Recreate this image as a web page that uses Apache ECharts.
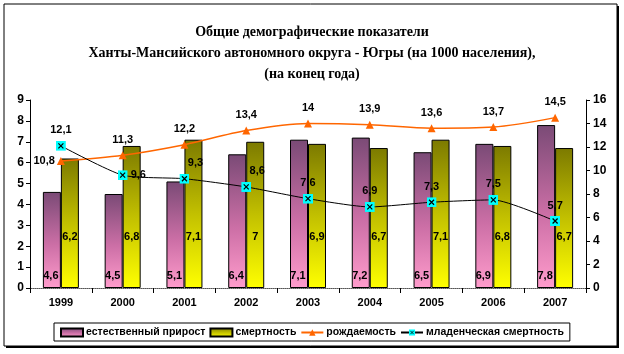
<!DOCTYPE html>
<html>
<head>
<meta charset="utf-8">
<script src="https://cdn.jsdelivr.net/npm/echarts@6/dist/echarts.min.js"></script>
<style>
  html, body { margin: 0; padding: 0; background: #fff; }
  #chart { width: 624px; height: 354px; }
</style>
</head>
<body>
<div id="chart"></div>
<script>
// data
const years = ['1999', '2000', '2001', '2002', '2003', '2004', '2005', '2006', '2007'];
const naturalGrowth = [4.6, 4.5, 5.1, 6.4, 7.1, 7.2, 6.5, 6.9, 7.8];
const mortality = [6.2, 6.8, 7.1, 7, 6.9, 6.7, 7.1, 6.8, 6.7];
const birthRate = [10.8, 11.3, 12.2, 13.4, 14, 13.9, 13.6, 13.7, 14.5];
const infantMortality = [12.1, 9.6, 9.3, 8.6, 7.6, 6.9, 7.3, 7.5, 5.7];

const names = ['естественный прирост', 'смертность', 'рождаемость', 'младенческая смертность'];

const font = 'Liberation Sans';
const comma = p => String(p.value).replace('.', ',');

const xMark =
  'image://data:image/svg+xml;charset=utf-8,' +
  encodeURIComponent(
    '<svg xmlns="http://www.w3.org/2000/svg" width="10" height="10">' +
      '<rect x="0" y="0" width="10" height="10" fill="#00ffff"/>' +
      '<path d="M2.5 2.5 L7.5 7.5 M7.5 2.5 L2.5 7.5" stroke="#000" stroke-width="1.2"/>' +
      '</svg>'
  );

const chart = echarts.init(document.getElementById('chart'));

const labelBase = {
  show: true,
  color: '#000',
  fontFamily: font,
  fontWeight: 'bold',
  fontSize: 11,
  formatter: comma,
};

const axisText = {
  color: '#000',
  fontFamily: font,
  fontWeight: 'bold',
  fontSize: 11,
};

const option = {
  animation: false,
  backgroundColor: '#fff',
  textStyle: { fontFamily: font },
  graphic: [
    {
      type: 'rect',
      shape: { x: 6, y: 6, width: 613, height: 342 },
      style: { fill: '#000' },
      silent: true,
      z: -10,
    },
    {
      type: 'rect',
      shape: { x: 4, y: 4, width: 613, height: 342 },
      style: { fill: '#fff', stroke: '#000', lineWidth: 1 },
      silent: true,
      z: -9,
    },
  ],
  title: {
    text:
      'Общие демографические показатели\n' +
      'Ханты-Мансийского автономного округа - Югры (на 1000 населения),\n' +
      '(на конец года)',
    left: 'center',
    top: 17,
    textStyle: {
      fontFamily: 'Liberation Serif',
      fontWeight: 'bold',
      fontSize: 14,
      lineHeight: 21,
      color: '#000',
    },
  },
  legend: {
    left: 54,
    top: 323,
    itemGap: 4,
    padding: [4, 6, 3, 6],
    borderColor: '#000',
    borderWidth: 1,
    itemWidth: 22,
    itemHeight: 8,
    textStyle: {
      fontFamily: font,
      fontWeight: 'bold',
      fontSize: 10.5,
      color: '#000',
      padding: [0, 0, 0, -2],
    },
    data: [
      { name: names[0], icon: 'rect' },
      { name: names[1], icon: 'rect' },
      { name: names[2] },
      { name: names[3] },
    ],
  },
  grid: { left: 30, right: 38, top: 100, bottom: 66 },
  xAxis: [
    {
      type: 'category',
      data: years,
      boundaryGap: true,
      axisLine: { lineStyle: { color: '#000', width: 1 } },
      axisTick: { show: true, length: 5, lineStyle: { color: '#000' } },
      axisLabel: { ...axisText, margin: 9 },
    },
    {
      type: 'category',
      data: years,
      position: 'top',
      axisLine: { lineStyle: { color: '#888', type: 'dotted' } },
      axisTick: { show: false },
      axisLabel: { show: false },
    },
  ],
  yAxis: [
    {
      type: 'value',
      min: 0,
      max: 9,
      interval: 1,
      position: 'left',
      splitLine: { show: false },
      axisLine: { show: true, lineStyle: { color: '#000' } },
      axisTick: { show: true, length: 4, lineStyle: { color: '#000' } },
      axisLabel: { ...axisText, fontSize: 12, margin: 6 },
    },
    {
      type: 'value',
      min: 0,
      max: 16,
      interval: 2,
      position: 'right',
      splitLine: { show: false },
      axisLine: { show: true, lineStyle: { color: '#000' } },
      axisTick: { show: true, length: 4, lineStyle: { color: '#000' } },
      axisLabel: { ...axisText, fontSize: 12, margin: 7 },
    },
  ],
  series: [
    {
      name: names[0],
      type: 'bar',
      yAxisIndex: 0,
      data: naturalGrowth,
      barWidth: 18,
      barGap: '0%',
      itemStyle: {
        borderColor: '#000',
        borderWidth: 1,
        color: new echarts.graphic.LinearGradient(0, 0, 0, 1, [
          { offset: 0, color: '#7a4a76' },
          { offset: 0.55, color: '#cc6fa6' },
          { offset: 1, color: '#ff9ccc' },
        ]),
      },
      label: { ...labelBase, position: 'insideBottom', distance: 7, offset: [-1, 0] },
    },
    {
      name: names[1],
      type: 'bar',
      yAxisIndex: 0,
      data: mortality,
      barWidth: 18,
      itemStyle: {
        borderColor: '#000',
        borderWidth: 1,
        color: new echarts.graphic.LinearGradient(0, 0, 0, 1, [
          { offset: 0, color: '#7c7a00' },
          { offset: 0.5, color: '#c2c000' },
          { offset: 1, color: '#ffff00' },
        ]),
      },
      label: { ...labelBase, position: 'insideBottom', distance: 46 },
    },
    {
      name: names[2],
      type: 'line',
      yAxisIndex: 1,
      data: birthRate.map((v, i) =>
        i === 0 ? { value: v, label: { position: 'left', distance: 2 } } : v
      ),
      symbol: 'triangle',
      symbolSize: 8,
      smooth: 0.3,
      z: 5,
      lineStyle: { color: '#ff6600', width: 1.5 },
      itemStyle: { color: '#ff6600' },
      label: { ...labelBase, position: 'top', distance: 6 },
    },
    {
      name: names[3],
      type: 'line',
      yAxisIndex: 1,
      data: infantMortality.map((v, i) => {
        if (i === 1) return { value: v, label: { position: 'right', distance: 3 } };
        if (i === 2 || i === 3) return { value: v, label: { position: 'top', offset: [11, 0] } };
        return v;
      }),
      symbol: xMark,
      symbolSize: 10,
      smooth: 0.2,
      z: 6,
      lineStyle: { color: '#000', width: 1 },
      itemStyle: { color: '#00ffff' },
      label: { ...labelBase, position: 'top', distance: 5 },
    },
  ],
};

chart.setOption(option);
</script>
</body>
</html>
